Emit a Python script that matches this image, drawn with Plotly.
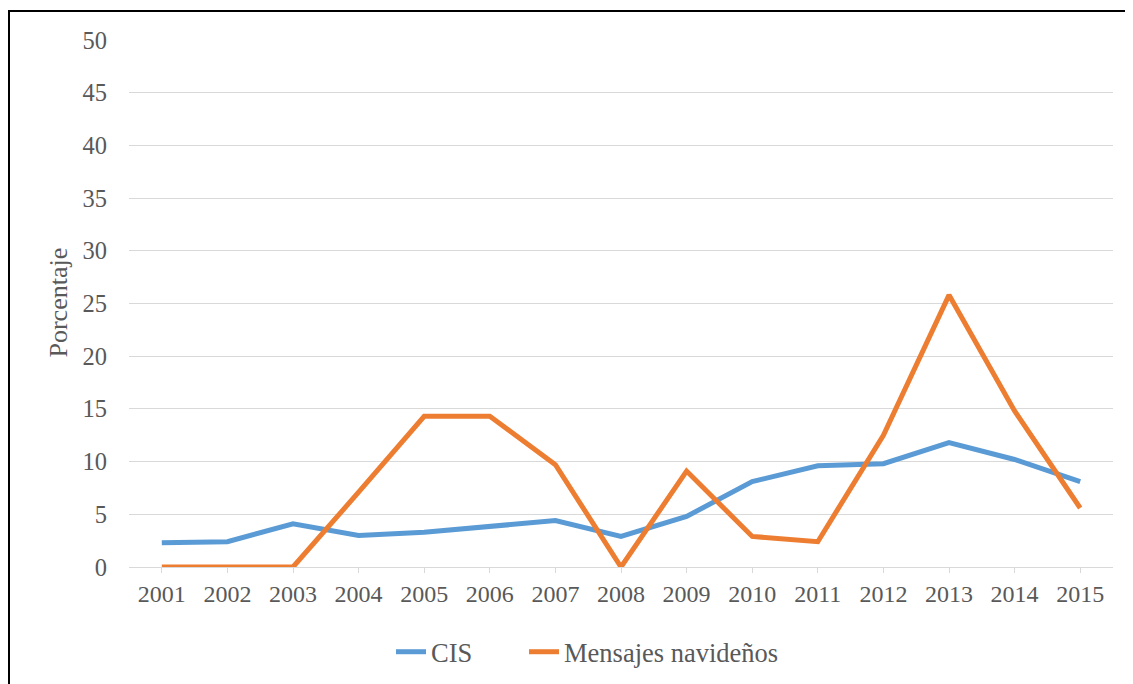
import plotly.graph_objects as go

years = ["2001", "2002", "2003", "2004", "2005", "2006", "2007", "2008",
         "2009", "2010", "2011", "2012", "2013", "2014", "2015"]
cis = [2.3, 2.4, 4.1, 3.0, 3.3, 3.9, 4.4, 2.9, 4.8, 8.1, 9.6, 9.8, 11.8, 10.2, 8.1]
mensajes = [0, 0, 0, 7.1, 14.3, 14.3, 9.7, 0, 9.1, 2.9, 2.4, 12.5, 25.8, 14.8, 5.6]
series_names = ["CIS", "Mensajes navideños"]
y_ticks = [0, 5, 10, 15, 20, 25, 30, 35, 40, 45, 50]

FONT = "Liberation Serif, Times New Roman, serif"
TXT = "#595959"

fig = go.Figure()
fig.add_trace(go.Scatter(x=years, y=cis, mode="lines", name=series_names[0],
                         line=dict(color="#5B9BD5", width=5), legend="legend"))
fig.add_trace(go.Scatter(x=years, y=mensajes, mode="lines", name=series_names[1],
                         line=dict(color="#ED7D31", width=5), legend="legend2"))

OFF = 8  # page body margin
W, H = 1125, 720
# plot area in page coordinates: left 129, right 1113, top 40, bottom 567
L = 129 - OFF
T = 40 - OFF
R = OFF + W - 1113
B = OFF + H - 567
pw, ph = W - L - R, H - T - B

def px(x):
    return (x - OFF - L) / pw

def py(y):
    return (OFF + H - B - y) / ph

legend_font = dict(family=FONT, size=26.5, color=TXT)

fig.update_layout(
    width=W, height=H,
    margin=dict(l=L, r=R, t=T, b=B),
    paper_bgcolor="white", plot_bgcolor="white",
    font=dict(family=FONT, size=24, color=TXT),
    showlegend=True,
    legend=dict(orientation="h", x=px(391), y=py(652), xanchor="left", yanchor="middle",
                font=legend_font, bgcolor="rgba(0,0,0,0)"),
    legend2=dict(orientation="h", x=px(524), y=py(652), xanchor="left", yanchor="middle",
                 font=legend_font, bgcolor="rgba(0,0,0,0)"),
    xaxis=dict(type="category", categoryorder="array", categoryarray=years,
               showgrid=False, showline=True, linecolor="#D9D9D9", linewidth=1,
               ticks="outside", ticklen=5, tickcolor="#D9D9D9",
               tickfont=dict(family=FONT, size=24, color=TXT),
               range=[-0.5, len(years) - 0.5], fixedrange=True, zeroline=False),
    yaxis=dict(range=[0, 50], tickvals=y_ticks, showgrid=True, gridcolor="#D9D9D9",
               gridwidth=1.3, zeroline=False, showline=False, ticks="",
               ticklabelstandoff=21,
               tickfont=dict(family=FONT, size=24.5, color=TXT), fixedrange=True),
    shapes=[dict(type="rect", xref="paper", yref="paper",
                 x0=px(9), x1=px(1160), y0=py(720), y1=py(11),
                 line=dict(color="black", width=2), fillcolor="rgba(0,0,0,0)",
                 layer="below")],
    annotations=[dict(text="Porcentaje", xref="paper", yref="paper",
                      x=px(57.5), y=py(303), textangle=-90, showarrow=False,
                      xanchor="center", yanchor="middle",
                      font=dict(family=FONT, size=26, color=TXT))],
)

fig.write_html("out.html")
